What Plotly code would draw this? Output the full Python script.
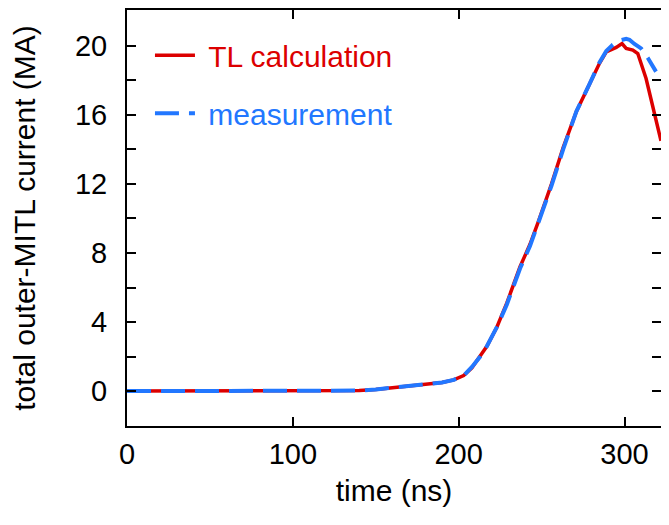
import plotly.graph_objects as go

# TL calculation (red, solid)
t_calc = [0, 100, 130, 140, 150, 160, 170, 180, 190, 197, 203, 208, 213, 217, 223,
          229, 237, 243, 248, 253, 256, 263, 271, 279, 285, 289, 292, 295, 298.5,
          301, 305, 308, 313, 318, 322]
i_calc = [0, 0, 0, 0.03, 0.1, 0.2, 0.3, 0.4, 0.5, 0.65, 0.9, 1.35, 2.0, 2.6, 3.7,
          5.1, 7.2, 8.5, 9.8, 11.1, 12.0, 14.1, 16.2, 17.8, 19.0, 19.65, 19.75, 19.9, 20.13,
          19.85, 19.75, 19.55, 18.1, 16.2, 14.5]

# measurement (blue, dashed)
t_meas = [0, 100, 130, 140, 150, 160, 170, 180, 190, 197, 203, 208, 213, 217, 223,
          229, 237, 243, 248, 253, 256, 263, 271, 279, 285, 289, 293, 297, 301,
          303, 306, 310, 314, 319]
i_meas = [0, 0, 0, 0.03, 0.1, 0.2, 0.3, 0.4, 0.5, 0.65, 0.9, 1.4, 2.0, 2.6, 3.7,
          5.0, 7.1, 8.4, 9.7, 11.0, 11.9, 14.0, 16.2, 17.8, 19.05, 19.7, 20.06, 20.3, 20.4,
          20.35, 20.1, 19.85, 19.3, 18.5]

red = "#dc0000"
blue = "#2277ff"
font = "Liberation Sans, Arial, Helvetica, sans-serif"

fig = go.Figure()
fig.add_trace(go.Scatter(
    x=t_calc, y=i_calc, mode="lines", legendgroup="a",
    line=dict(color=red, width=3.5),
    name=f"<span style='color:{red}'>&nbsp;TL calculation</span>",
))
fig.add_trace(go.Scatter(
    x=t_meas, y=i_meas, mode="lines", legendgroup="b",
    line=dict(color=blue, width=4, dash="24px,10px"),
    name=f"<span style='color:{blue}'>&nbsp;measurement</span>",
))

axis_common = dict(
    showline=True, linecolor="black", linewidth=2, mirror="ticks",
    ticks="inside", ticklen=9, tickwidth=2, tickcolor="black",
    showgrid=False, zeroline=False,
    tickfont=dict(size=29, color="black", family=font),
)

# page body has an 8px margin, so the figure is sized/offset to fit the window
fig.update_layout(
    width=661, height=517,
    paper_bgcolor="white", plot_bgcolor="white",
    margin=dict(l=119, r=8, t=0, b=99),
    font=dict(family=font, color="black"),
    showlegend=True,
    legend=dict(
        x=0.043, y=0.954, xanchor="left", yanchor="top",
        bgcolor="rgba(0,0,0,0)", font=dict(size=30, family=font),
        itemwidth=40, traceorder="grouped", tracegroupgap=16,
    ),
    xaxis=dict(
        range=[0, 322], tickvals=[0, 100, 200, 300],
        title=dict(text="time (ns)", font=dict(size=30), standoff=11),
        ticklabelstandoff=1,
        **axis_common,
    ),
    yaxis=dict(
        range=[-2.02, 22.07], tickvals=[0, 4, 8, 12, 16, 20],
        minor=dict(tickvals=[2, 6, 10, 14, 18], ticks="inside", ticklen=9,
                   tickwidth=2, tickcolor="black", showgrid=False),
        title=dict(text="total outer-MITL current (MA)", font=dict(size=30), standoff=30),
        ticklabelstandoff=12,
        **axis_common,
    ),
)

fig.write_html("out.html")
